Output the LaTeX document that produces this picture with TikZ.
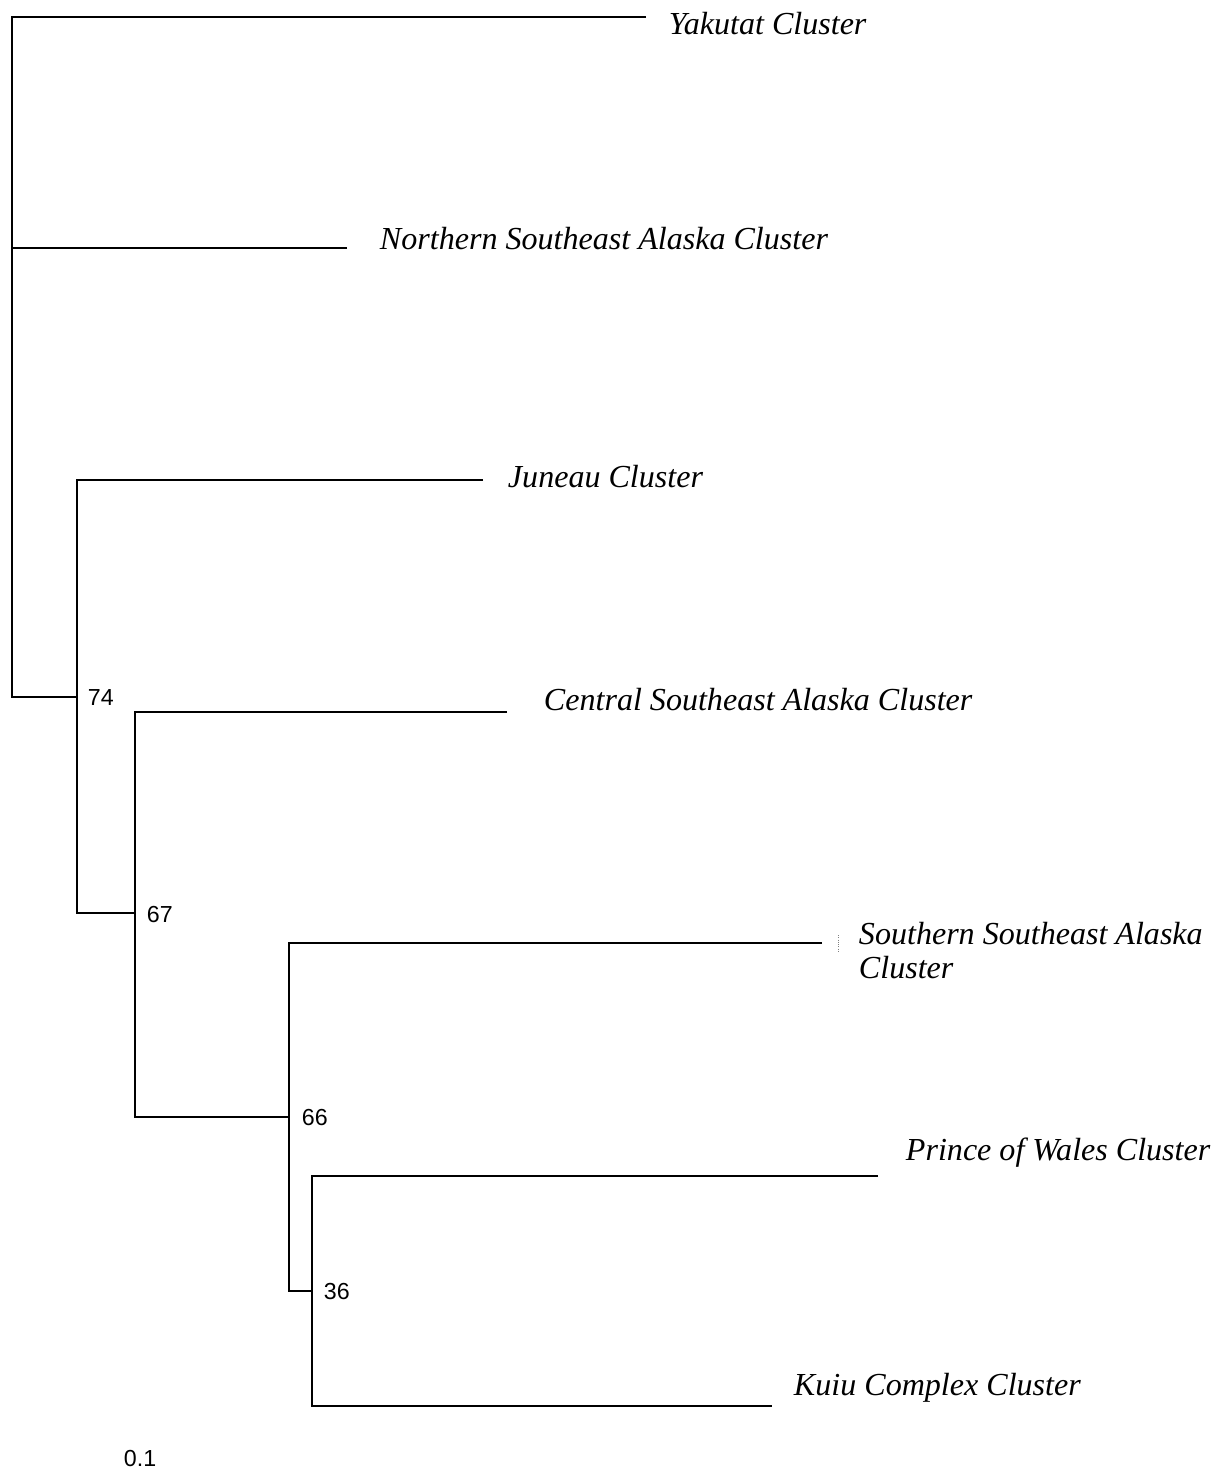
\documentclass[tikz,border=0pt]{standalone}
\usepackage{fontspec}
\setmainfont{Liberation Serif}
\newfontfamily\bootfont{Liberation Sans}

\begin{document}
\begin{tikzpicture}[x=0.025cm, y=-0.025cm, line width=1.4pt,
    leaf/.style={anchor=base west, inner sep=0pt, align=left,
        font=\fontsize{22.8}{23.5}\selectfont\itshape},
    boot/.style={anchor=base west, inner sep=0pt, font=\bootfont\fontsize{16.5}{18}\selectfont}]
    \useasboundingbox (0, 0) rectangle (1219, 1470);

    \coordinate (root) at (12, 697);
    \coordinate (N74) at (77, 697);
    \coordinate (N67) at (135, 913);
    \coordinate (N66) at (289, 1117);
    \coordinate (N36) at (312, 1291);

    \coordinate (Y) at (646, 17);
    \coordinate (NS) at (347, 248);
    \coordinate (J) at (483, 480);
    \coordinate (CS) at (507, 712);
    \coordinate (SS) at (822, 943);
    \coordinate (PW) at (878, 1176);
    \coordinate (KC) at (772, 1406);

    \draw (Y) -| (root) -- (N74);
    \draw[line width=2pt] (Y -| root) -- ++(0, 455);
    \draw (NS) -- (NS -| root);
    \draw (J) -| (N74) |- (N67);
    \draw (CS) -| (N67) |- (N66);
    \draw (SS) -| (N66) |- (N36);
    \draw (PW) -| (N36) |- (KC);
    \draw[densely dotted, line width=0.6pt, gray] (838, 935) -- (838, 952);

    \node[leaf] (lY) at (668, 35) {Yakutat Cluster};
    \node[leaf] (lNS) at (379, 250) {Northern Southeast Alaska Cluster};
    \node[leaf] (lJ) at (507, 487) {Juneau Cluster};
    \node[leaf] (lCS) at (543, 710) {Central Southeast Alaska Cluster};
    \node[leaf] (lSS) at (858, 978) {Southern Southeast Alaska\\Cluster};
    \node[leaf] (lPW) at (905, 1160) {Prince of Wales Cluster};
    \node[leaf] (lKC) at (793, 1395) {Kuiu Complex Cluster};

    \node[boot] (b74) at (87, 705) {74};
    \node[boot] (b67) at (146, 922) {67};
    \node[boot] (b66) at (301, 1125) {66};
    \node[boot] (b36) at (323, 1299) {36};
    \node[boot] (scale) at (123, 1466) {0.1};
\end{tikzpicture}
\end{document}
